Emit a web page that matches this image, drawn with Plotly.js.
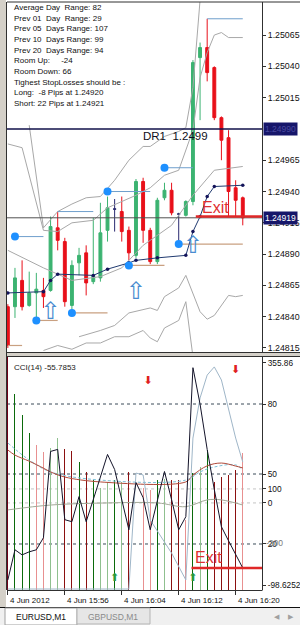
<!DOCTYPE html>
<html>
<head>
<meta charset="utf-8">
<script src="https://cdn.plot.ly/plotly-3.0.1.min.js"></script>
<style>
html,body{margin:0;padding:0;background:#ffffff;overflow:hidden;}
#chart{width:300px;height:625px;}
</style>
</head>
<body>
<div id="chart"></div>
<script>
// ---------------- data ----------------
const barIdx = [-1,0,1,2,3,4,5,6,7,8,9,10,11,12,13,14,15,16,17,18,19,20,21,22,23,24,25,26,27,28,29,30,31,32];
const timeTickBars = [-1, 7, 15, 23, 31];
const timeTickLabels = ['4 Jun 2012','4 Jun 15:56','4 Jun 16:04','4 Jun 16:12','4 Jun 16:20'];

const openP  = [1.24848,1.24848,1.24869,1.24849,1.24859,1.24861,1.24861,1.24911,1.24900,1.24849,1.24883,1.24891,1.24868,1.24871,1.24909,1.24926,1.24924,1.24909,1.24889,1.24948,1.24909,1.24884,1.24935,1.24941,1.24922,1.24921,1.24932,1.25047,1.25055,1.25039,1.24999,1.24983,1.24943,1.24935];
const highP  = [1.24850,1.24879,1.24885,1.24876,1.24875,1.24871,1.24920,1.24924,1.24903,1.24885,1.24895,1.24897,1.24919,1.24931,1.24936,1.24934,1.24936,1.24912,1.24950,1.24951,1.24911,1.24935,1.24947,1.24947,1.24923,1.24933,1.25045,1.25059,1.25078,1.25040,1.25000,1.24989,1.24949,1.24936];
const lowP   = [1.24815,1.24839,1.24845,1.24848,1.24837,1.24847,1.24860,1.24893,1.24848,1.24845,1.24873,1.24857,1.24866,1.24868,1.24900,1.24908,1.24900,1.24885,1.24887,1.24899,1.24882,1.24882,1.24933,1.24921,1.24899,1.24920,1.24929,1.24997,1.25028,1.24997,1.24965,1.24920,1.24920,1.24913];
const closeP = [1.24817,1.24871,1.24848,1.24859,1.24862,1.24856,1.24912,1.24901,1.24852,1.24881,1.24889,1.24867,1.24873,1.24907,1.24927,1.24926,1.24908,1.24891,1.24948,1.24909,1.24884,1.24933,1.24941,1.24923,1.24922,1.24932,1.25043,1.25055,1.25035,1.24999,1.24981,1.24940,1.24933,1.24919];
const dojiBars = [14, 23];
const priceTicks = [1.24815,1.24840,1.24865,1.24890,1.24915,1.24940,1.24965,1.25015,1.25040,1.25065];

// band lines (bar index / price)
const upperOuterBars  = [2,4,6,8,10,12,14,16,18,19,21,23,24,25,26];
const upperOuterPrice = [1.24993,1.24911,1.24924,1.24930,1.24935,1.24936,1.24949,1.24965,1.24976,1.24976,1.24984,1.24988,1.24991,1.25023,1.25093];
const upperInnerBars  = [-1,1,4,6,8,11,13,17,19,21,23,25,26,27,28,29,30,32];
const upperInnerPrice = [1.24978,1.24975,1.24909,1.24908,1.24915,1.24917,1.24927,1.24937,1.24943,1.24953,1.24957,1.24989,1.25031,1.25051,1.25065,1.25067,1.25063,1.25063];
const middleBars  = [-1,4,8,12,15,18,19,22,25,28,32];
const middlePrice = [1.24893,1.24879,1.24869,1.24872,1.24879,1.24897,1.24901,1.24913,1.24937,1.24957,1.24960];
const lowerInnerBars  = [9,12,14,16,19,20,21,23,24,26,27,28,30,31,32];
const lowerInnerPrice = [1.24824,1.24829,1.24833,1.24843,1.24847,1.24845,1.24856,1.24863,1.24873,1.24844,1.24838,1.24841,1.24857,1.24856,1.24857];
const lowerOuterBars  = [4,6,8,10,12,14,16,18,19,20,21,23,24,25];
const lowerOuterPrice = [1.24813,1.24817,1.24814,1.24819,1.24819,1.24824,1.24824,1.24829,1.24823,1.24820,1.24831,1.24837,1.24852,1.24808];

// trailing stop line
const trailBars  = [-1,4,5,6,11,13,16,17,20,24,25,26,27,28,32];
const trailPrice = [1.24859,1.24860,1.24869,1.24874,1.24873,1.24878,1.24883,1.24885,1.24887,1.24889,1.24908,1.24920,1.24936,1.24944,1.24945];

// swing points and their level lines
const pivotBars  = [0,3,8,13,16,21,23];
const pivotPrice = [1.24904,1.24837,1.24843,1.24940,1.24881,1.24959,1.24898];
const highLineStart = [0,6,13,21,27];
const highLineEnd   = [4,11,19,25,32];
const highLinePrice = [1.24904,1.24924,1.24940,1.24959,1.25078];
const lowLineStart = [-1,3,8,16,23];
const lowLineEnd   = [1,6,13,21,32];
const lowLinePrice = [1.24817,1.24837,1.24843,1.24881,1.24898];

const buyArrowBars  = [5,17,25];
const buyArrowPrice = [1.24843,1.24859,1.24896];

const dr1Level = 1.24990;
const bidPrice = 1.24919;
const exitLevel = 1.24920;
const exitFromBar = 25.4;

const infoLines = ['Average Day  Range: 82','Prev 01  Day  Range: 29','Prev 05  Days Range: 107','Prev 10  Days Range: 99','Prev 20  Days Range: 94','Room Up:     -24','Room Down: 66','Tighest StopLosses should be :','Long:  -8 Pips at 1.24920','Short: 22 Pips at 1.24921'];

// lower window
const cciVals = [-79.0,-20.2,-30.1,-24.2,-20.2,3.3,171.7,175.6,38.5,34.6,83.6,34.6,77.7,122.7,165.8,136.4,77.7,18.9,111.0,81.6,18.9,77.7,132.5,77.7,18.9,44.4,335.0,263.8,175.6,97.3,24.8,-2.6,-28.1,-55.7853];
const cciMax = 355.86, cciMin = -98.6252;
const histVals = [100,84.3,75.3,67.6,62.4,59.4,61.1,65.4,60.7,59.9,55.1,50.9,47.4,44.0,46.6,47.4,46.6,50.9,46.6,44.0,43.1,47.4,48.0,47.4,47.4,30.3,50.4,53.0,60.3,46.6,48.7,49.6,51.7,59.0];
const histKind = ['M','G','G','G','r','r','g','g','R','R','G','R','G','g','g','G','g','R','g','r','r','G','g','R','R','r','G','g','G','R','R','R','R','r'];
const maBars = [-1,0,2,4,5,7,12,24,25,27,29,31,32];
const maVals = [60.3,58.1,55.5,52.5,50.9,48.7,46.6,46.6,49.5,53.5,54.7,53.4,52.6];
const sigBars = [-1,2,5,12,24,26,28,31,32];
const sigVals = [63.3,56.0,50.9,47.4,47.4,50.9,53.0,53.9,51.7];
const slowBars = [-1,5,13,20,24,27,29,32];
const slowVals = [34.6,36.7,37.6,37.6,36.0,38.9,38.9,36.7];
const fastBars = [-1,16,17,18,19,22,24,25,26,27,28,29,31,32];
const fastVals = [0.7,0.7,50.4,49.6,30.3,16.1,4.6,65.4,82.6,92.4,95.9,90.3,65.4,55.1];
const sellArrowBars = [18.7,31];
const sellArrowVals = [89.9,94.6];
const upArrowBars = [14,25];
const upArrowVals = [5.4,5.4];
const darkLevels = [80,50,20];
const lightLevels = [43.6,37.6];
const lowerTickVals = [97.6,80,50,43.6,37.6,20,2.4];
const lowerTickText = ['355.86','80','50','100','0','20','-98.6252'];

// ---------------- geometry helpers (layout only) ----------------
const W = 300, H = 625, ML = 7, MR = 38, MT = 2, MB = 35;
const PW = W - ML - MR, PH = H - MT - MB;
const xp = px => (px - ML) / PW;
const yp = py => (H - MB - py) / PH;
const FONT = 'Liberation Sans, Arial, sans-serif';

// ---------------- traces ----------------
const mainIdx = barIdx.map((b,i)=>i).filter(i => dojiBars.indexOf(barIdx[i]) < 0);
const dojiIdx = barIdx.map((b,i)=>i).filter(i => dojiBars.indexOf(barIdx[i]) >= 0);
const pick = (arr, idx) => idx.map(i => arr[i]);

const traces = [];
const grey = '#a8a8a8';
function band(xs, ys){ traces.push({type:'scatter',mode:'lines',x:xs,y:ys,xaxis:'x',yaxis:'y',line:{color:grey,width:1},hoverinfo:'skip',showlegend:false}); }
band(upperOuterBars, upperOuterPrice);
band(upperInnerBars, upperInnerPrice);
band(middleBars, middlePrice);
band(lowerInnerBars, lowerInnerPrice);
band(lowerOuterBars, lowerOuterPrice);

function segs(starts, ends, vals){ const xs=[], ys=[]; starts.forEach((s,i)=>{xs.push(s,ends[i],null); ys.push(vals[i],vals[i],null);}); return {xs,ys}; }
const hs = segs(highLineStart, highLineEnd, highLinePrice);
traces.push({type:'scatter',mode:'lines',x:hs.xs,y:hs.ys,xaxis:'x',yaxis:'y',line:{color:'#6f9fcc',width:1},hoverinfo:'skip',showlegend:false});
const ls = segs(lowLineStart, lowLineEnd, lowLinePrice);
traces.push({type:'scatter',mode:'lines',x:ls.xs,y:ls.ys,xaxis:'x',yaxis:'y',line:{color:'#c9a081',width:1.2},hoverinfo:'skip',showlegend:false});

traces.push({type:'candlestick',x:pick(barIdx,mainIdx),open:pick(openP,mainIdx),high:pick(highP,mainIdx),low:pick(lowP,mainIdx),close:pick(closeP,mainIdx),
  xaxis:'x',yaxis:'y',whiskerwidth:0,
  increasing:{line:{color:'#3cb371',width:1},fillcolor:'#3cb371'},
  decreasing:{line:{color:'#e8101a',width:1},fillcolor:'#e8101a'},hoverinfo:'skip',showlegend:false});
traces.push({type:'candlestick',x:pick(barIdx,dojiIdx),open:pick(openP,dojiIdx),high:pick(highP,dojiIdx),low:pick(lowP,dojiIdx),close:pick(closeP,dojiIdx),
  xaxis:'x',yaxis:'y',whiskerwidth:0,
  increasing:{line:{color:'#2a2a70',width:1},fillcolor:'#2a2a70'},
  decreasing:{line:{color:'#2a2a70',width:1},fillcolor:'#2a2a70'},hoverinfo:'skip',showlegend:false});

traces.push({type:'scatter',mode:'lines+markers',x:trailBars,y:trailPrice,xaxis:'x',yaxis:'y',line:{color:'#203a70',width:1},marker:{size:3.5,color:'#14145a'},hoverinfo:'skip',showlegend:false});

traces.push({type:'scatter',mode:'markers',x:pivotBars,y:pivotPrice,xaxis:'x',yaxis:'y',marker:{size:8,color:'#1e90ff'},hoverinfo:'skip',showlegend:false});

traces.push({type:'scatter',mode:'text',x:buyArrowBars,y:buyArrowPrice,xaxis:'x',yaxis:'y',text:buyArrowBars.map(()=>'\u21E7'),
  textfont:{family:'DejaVu Sans',size:24,color:'#4a8cd0'},textposition:'middle center',hoverinfo:'skip',showlegend:false});

// lower window
const kindColor = {M:'#6e0018',G:'#0b6a0b',g:'#8fc08f',R:'#8b1010',r:'#e89090'};
traces.push({type:'bar',x:barIdx,y:histVals,xaxis:'x2',yaxis:'y2',width:0.14,marker:{color:histKind.map(k=>kindColor[k]),line:{width:0}},hoverinfo:'skip',showlegend:false});
traces.push({type:'scatter',mode:'lines',x:slowBars,y:slowVals,xaxis:'x2',yaxis:'y2',line:{color:'#a3aa98',width:1,shape:'spline'},hoverinfo:'skip',showlegend:false});
traces.push({type:'scatter',mode:'lines',x:sigBars,y:sigVals,xaxis:'x2',yaxis:'y2',line:{color:'#7ec0d8',width:1,dash:'3px,2px',shape:'spline'},hoverinfo:'skip',showlegend:false});
traces.push({type:'scatter',mode:'lines',x:maBars,y:maVals,xaxis:'x2',yaxis:'y2',line:{color:'#b04a3a',width:1,shape:'spline'},hoverinfo:'skip',showlegend:false});
traces.push({type:'scatter',mode:'lines',x:fastBars,y:fastVals,xaxis:'x2',yaxis:'y2',line:{color:'#9fb6c8',width:1},hoverinfo:'skip',showlegend:false});
traces.push({type:'scatter',mode:'lines',x:barIdx,y:cciVals,xaxis:'x2',yaxis:'y3',line:{color:'#14142a',width:1},hoverinfo:'skip',showlegend:false});
traces.push({type:'scatter',mode:'text',x:sellArrowBars,y:sellArrowVals,xaxis:'x2',yaxis:'y2',text:sellArrowBars.map(()=>'\u2B07'),
  textfont:{family:'DejaVu Sans',size:11,color:'#e02020'},hoverinfo:'skip',showlegend:false});
traces.push({type:'scatter',mode:'text',x:upArrowBars,y:upArrowVals,xaxis:'x2',yaxis:'y2',text:upArrowBars.map(()=>'\u2B06'),
  textfont:{family:'DejaVu Sans',size:11,color:'#2a9a3a'},hoverinfo:'skip',showlegend:false});

// ---------------- shapes ----------------
const shapes = [];
function pline(x0,y0,x1,y1,color,width,dash){ shapes.push({type:'line',xref:'paper',yref:'paper',x0:xp(x0),y0:yp(y0),x1:xp(x1),y1:yp(y1),line:{color,width,dash:dash||'solid'},layer:'above'}); }
function prect(x0,y0,x1,y1,fill,lc,layer){ shapes.push({type:'rect',xref:'paper',yref:'paper',x0:xp(x0),y0:yp(y0),x1:xp(x1),y1:yp(y1),fillcolor:fill,line:{color:lc||fill,width:lc?1:0},layer:layer||'above'}); }

shapes.push({type:'line',xref:'paper',yref:'y',x0:0,x1:1,y0:dr1Level,y1:dr1Level,line:{color:'#10104a',width:1.5},layer:'above'});
shapes.push({type:'line',xref:'paper',yref:'y',x0:0,x1:1,y0:bidPrice,y1:bidPrice,line:{color:'#505050',width:1},layer:'above'});
shapes.push({type:'line',xref:'x',yref:'y',x0:exitFromBar,x1:34.7,y0:exitLevel,y1:exitLevel,line:{color:'#e02828',width:2.5},layer:'above'});
darkLevels.forEach(v=>shapes.push({type:'line',xref:'paper',yref:'y2',x0:0,x1:1,y0:v,y1:v,line:{color:'#3a4a58',width:1,dash:'3px,3px'},layer:'below'}));
lightLevels.forEach(v=>shapes.push({type:'line',xref:'paper',yref:'y2',x0:0,x1:1,y0:v,y1:v,line:{color:'#c4c4c4',width:1,dash:'3px,3px'},layer:'below'}));
shapes.push({type:'line',xref:'x2',yref:'y3',x0:24.8,x1:34.7,y0:-55.7853,y1:-55.7853,line:{color:'#e02828',width:2.5},layer:'above'});

// window frame
prect(0,0,6,607,'#d4d0c8');
pline(6.5,2,6.5,590,'#303030',1);
pline(7,2,300,2,'#303030',1);
pline(262.5,2,262.5,352,'#303030',1);
pline(7,352.5,300,352.5,'#303030',1);
prect(7,353,300,356,'#d4d0c8');
pline(7,356.5,300,356.5,'#303030',1);
pline(262.5,357,262.5,590,'#303030',1);
pline(7,590.5,262.5,590.5,'#303030',1);
pline(0,607.5,300,607.5,'#101010',1);
prect(0,608,300,625,'#f0f0f0');
prect(5,608,77,625,'#ffffff','#a0a0a0');
prect(77,608,150,624,'#e6e6e6','#b4b4b4');

// ---------------- annotations ----------------
const ann = [];
infoLines.forEach((t,i)=>ann.push({xref:'paper',yref:'paper',x:xp(12),y:yp(7.5+i*10.65),text:t,showarrow:false,xanchor:'left',yanchor:'middle',font:{family:FONT,size:8,color:'#101010'}}));
ann.push({xref:'paper',yref:'y',x:xp(141),y:dr1Level,yshift:-7,text:'DR1  1.2499',showarrow:false,xanchor:'left',yanchor:'middle',font:{family:FONT,size:11.5,color:'#101020'}});
ann.push({xref:'paper',yref:'paper',x:xp(215),y:yp(207),text:'Exit',showarrow:false,xanchor:'center',yanchor:'middle',font:{family:FONT,size:16,color:'#e03030'}});
ann.push({xref:'paper',yref:'paper',x:xp(208),y:yp(557),text:'Exit',showarrow:false,xanchor:'center',yanchor:'middle',font:{family:FONT,size:16,color:'#e03030'}});
ann.push({xref:'paper',yref:'paper',x:xp(12),y:yp(367),text:'CCI(14) -55.7853',showarrow:false,xanchor:'left',yanchor:'middle',font:{family:FONT,size:8,color:'#202020'}});
ann.push({xref:'paper',yref:'y',x:xp(263),y:dr1Level,text:'1.24990',showarrow:false,xanchor:'left',yanchor:'middle',bgcolor:'#16166a',borderpad:1,font:{family:FONT,size:8.5,color:'#4a4aa0'}});
ann.push({xref:'paper',yref:'y',x:xp(263),y:bidPrice,text:'1.24919',showarrow:false,xanchor:'left',yanchor:'middle',bgcolor:'#16166a',borderpad:1,font:{family:FONT,size:8.5,color:'#ffffff'}});
ann.push({xref:'paper',yref:'y2',x:xp(264),y:20,yshift:1,text:'-200',showarrow:false,xanchor:'left',yanchor:'middle',font:{family:FONT,size:8.5,color:'#7a7a7a'}});
timeTickBars.forEach((b,i)=>ann.push({xref:'x2',yref:'paper',x:b,y:yp(600),text:timeTickLabels[i],showarrow:false,xanchor:'left',yanchor:'middle',xshift:0,font:{family:FONT,size:8,color:'#101010'}}));
ann.push({xref:'paper',yref:'paper',x:xp(41),y:yp(617),text:'EURUSD,M1',showarrow:false,xanchor:'center',yanchor:'middle',font:{family:FONT,size:8.5,color:'#101010'}});
ann.push({xref:'paper',yref:'paper',x:xp(113),y:yp(617),text:'GBPUSD,M1',showarrow:false,xanchor:'center',yanchor:'middle',font:{family:FONT,size:8.5,color:'#8a8a8a'}});
ann.push({xref:'paper',yref:'paper',x:xp(277),y:yp(617),text:'\u25C0',showarrow:false,xanchor:'center',yanchor:'middle',font:{family:'DejaVu Sans',size:7,color:'#a0a0a0'}});
ann.push({xref:'paper',yref:'paper',x:xp(291),y:yp(617),text:'\u25B6',showarrow:false,xanchor:'center',yanchor:'middle',font:{family:'DejaVu Sans',size:7,color:'#a0a0a0'}});

// ---------------- layout ----------------
const xRange = [-1.12, 34.7];
const layout = {
  width: W, height: H,
  margin: {l:ML, r:MR, t:MT, b:MB, pad:0},
  paper_bgcolor: '#ffffff', plot_bgcolor: '#ffffff',
  showlegend: false, boxgap: 0.42, bargap: 0,
  xaxis: {range:xRange, anchor:'y', showgrid:false, zeroline:false, showticklabels:false, ticks:'', showline:false, rangeslider:{visible:false}, fixedrange:true},
  xaxis2: {range:xRange, anchor:'y2', showgrid:false, zeroline:false, showticklabels:false, ticks:'outside', ticklen:4, tickcolor:'#303030', tickvals:timeTickBars, showline:false, fixedrange:true},
  yaxis: {domain:[yp(352), 1], range:[1.248118, 1.250914], side:'right', anchor:'x', showgrid:false, zeroline:false,
          tickvals:priceTicks, tickformat:'.5f', ticks:'outside', ticklen:3, tickcolor:'#303030',
          tickfont:{family:FONT,size:8.8,color:'#101010'}, showline:false, fixedrange:true},
  yaxis2: {domain:[0, yp(357)], range:[0.28, 100.15], side:'right', anchor:'x2', showgrid:false, zeroline:false,
          tickvals:lowerTickVals, ticktext:lowerTickText, ticks:'outside', ticklen:3, tickcolor:'#303030',
          tickfont:{family:FONT,size:8.3,color:'#101010'}, showline:false, fixedrange:true},
  yaxis3: {overlaying:'y2', range:[cciMin, cciMax], side:'right', anchor:'x2', visible:false, fixedrange:true},
  shapes: shapes,
  annotations: ann
};

Plotly.newPlot('chart', traces, layout, {staticPlot:true, displayModeBar:false});
</script>
</body>
</html>
